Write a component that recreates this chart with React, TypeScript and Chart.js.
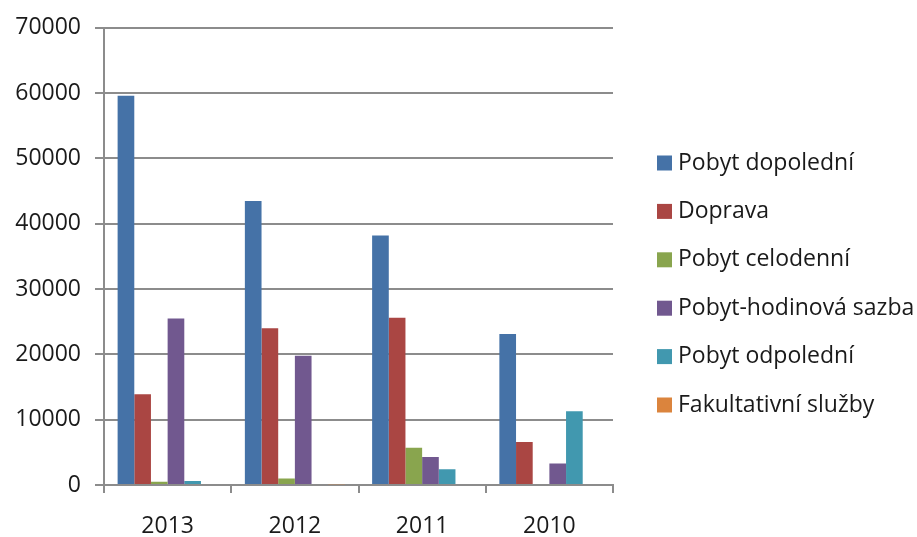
import React, { useEffect, useRef } from "react";
import { Chart, registerables } from "chart.js";

Chart.register(...registerables);

const categories = ["2013", "2012", "2011", "2010"];
const seriesNames = [
  "Pobyt dopolední",
  "Doprava",
  "Pobyt celodenní",
  "Pobyt-hodinová sazba",
  "Pobyt odpolední",
  "Fakultativní služby",
];
const pobytDopoledni = [59600, 43500, 38200, 23100];
const doprava = [13900, 24000, 25600, 6600];
const pobytCelodenni = [500, 1000, 5700, 0];
const pobytHodinova = [25500, 19800, 4300, 3300];
const pobytOdpoledni = [600, 0, 2400, 11300];
const fakultativni = [0, 100, 150, 0];
const colors = ["#4572A7", "#AA4643", "#89A54E", "#71588F", "#4198AF", "#DB843D"];
const yMax = 70000;
const yStep = 10000;

const FONT = "'Open Sans', 'DejaVu Sans', sans-serif";
const TEXT = "#1a1a1a";
const GRID = "#8c8c8c";

export default function App() {
  const ref = useRef<HTMLCanvasElement | null>(null);

  useEffect(() => {
    document.body.style.margin = "0";
    const values = [pobytDopoledni, doprava, pobytCelodenni, pobytHodinova, pobytOdpoledni, fakultativni];
    const legendPlugin = {
      id: "customLegend",
      afterDraw(chart: any) {
        const ctx = chart.ctx;
        ctx.save();
        ctx.font = `23px ${FONT}`;
        ctx.textBaseline = "middle";
        ctx.textAlign = "left";
        chart.data.datasets.forEach((ds: any, i: number) => {
          const cy = 163 + i * 48.4;
          ctx.fillStyle = ds.backgroundColor;
          ctx.fillRect(657, cy - 7.5, 15, 15);
          ctx.fillStyle = TEXT;
          ctx.fillText(ds.label, 678, cy);
        });
        ctx.restore();
      },
    };
    const chart = new Chart(ref.current as HTMLCanvasElement, {
      type: "bar",
      data: {
        labels: categories,
        datasets: seriesNames.map((name, i) => ({
          label: name,
          data: values[i],
          backgroundColor: colors[i],
          borderWidth: 0,
          categoryPercentage: 0.786,
          barPercentage: 1,
        })),
      },
      options: {
        animation: false,
        responsive: false,
        maintainAspectRatio: false,
        layout: { padding: { top: 25, right: 304, left: 0, bottom: 0 } },
        plugins: { legend: { display: false }, tooltip: { enabled: false } },
        scales: {
          x: {
            grid: {
              offset: true,
              drawOnChartArea: false,
              drawTicks: true,
              tickLength: 8,
              color: GRID,
              lineWidth: 2,
            },
            border: { color: GRID, width: 2 },
            ticks: { font: { family: FONT, size: 23 }, color: TEXT, padding: 20 },
            afterFit: (s: any) => {
              s.height = 52;
            },
          },
          y: {
            min: 0,
            max: yMax,
            ticks: {
              stepSize: yStep,
              font: { family: FONT, size: 23 },
              color: TEXT,
              padding: 14,
              callback: (v: any) => String(v),
            },
            grid: { color: GRID, lineWidth: 2, tickLength: 9 },
            border: { color: GRID, width: 2 },
            afterFit: (s: any) => {
              s.width = 104;
            },
          },
        },
      },
      plugins: [legendPlugin],
    });
    return () => chart.destroy();
  }, []);

  return (
    <div style={{ width: 917, height: 537 }}>
      <canvas ref={ref} width={917} height={537} style={{ display: "block" }} />
    </div>
  );
}
